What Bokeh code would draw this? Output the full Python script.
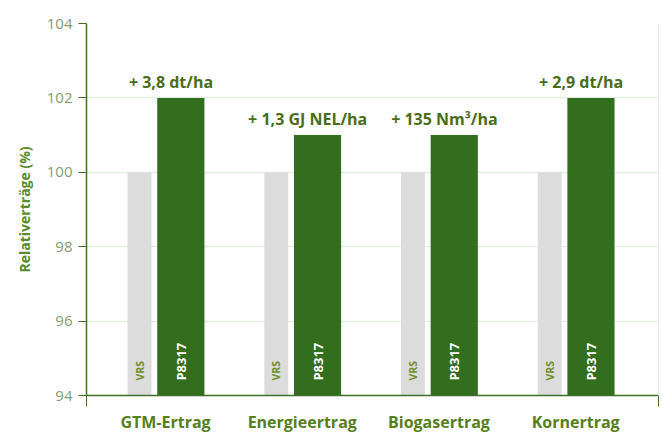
import numpy as np
from bokeh.plotting import figure
from bokeh.models import ColumnDataSource, FixedTicker, LinearAxis, Range1d
from bokeh.core.properties import value
from bokeh.embed import file_html
from bokeh.resources import INLINE

categories = ["GTM-Ertrag", "Energieertrag", "Biogasertrag", "Kornertrag"]
vrs_values = [100, 100, 100, 100]
p8317_values = [102.0, 101.0, 101.0, 102.0]
diff_labels = ["+ 3,8 dt/ha", "+ 1,3 GJ NEL/ha", "+ 135 Nm³/ha", "+ 2,9 dt/ha"]
y_ticks = [94, 96, 98, 100, 102, 104]

FONT = "Open Sans"
GREEN = "#336e1f"
GRAY = "#dcdcdc"
AXIS = "#3f6f2a"
TXT = "#557f1c"

idx = np.arange(len(categories)) + 0.5
src = ColumnDataSource(dict(
    xg=idx - 0.19, xp=idx + 0.112, xl=idx + 0.04,
    vrs=vrs_values, p=p8317_values, lab=diff_labels,
    tv=["VRS"] * 4, tp=["P8317"] * 4,
))

x0, x1 = -0.078, 4.106
p = figure(width=663, height=435, output_backend="svg", toolbar_location=None,
           x_range=Range1d(x0, x1), y_range=Range1d(94, 104),
           min_border_left=86, min_border_right=5, min_border_top=23, min_border_bottom=37)
p.outline_line_color = None
p.background_fill_color = "white"
p.border_fill_color = "white"

p.vbar(x="xg", width=0.175, bottom=94, top="vrs", source=src, fill_color=GRAY, line_color=None)
p.vbar(x="xp", width=0.345, bottom=94, top="p", source=src, fill_color=GREEN, line_color=None)

p.text(x="xg", y=94.4, text="tv", source=src, angle=np.pi / 2, text_align="left",
       text_baseline="middle", text_font=value(FONT), text_font_size="10.5px",
       text_font_style="bold", text_color="#6f8f2a")
p.text(x="xp", y=94.4, text="tp", source=src, angle=np.pi / 2, text_align="left",
       text_baseline="middle", text_font=value(FONT), text_font_size="13px",
       text_font_style="bold", text_color="white")
p.text(x="xl", y="p", text="lab", source=src, text_align="center", text_baseline="bottom",
       y_offset=-5, text_font=value(FONT), text_font_size="16px", text_font_style="bold",
       text_color="#4b6c1a")

# y axis
ya = p.yaxis[0]
ya.ticker = FixedTicker(ticks=y_ticks)
ya.minor_tick_line_color = None
ya.major_tick_in = 0
ya.major_tick_out = 8
ya.major_tick_line_color = AXIS
ya.axis_line_color = AXIS
ya.axis_line_width = 1.5
ya.major_label_text_font = FONT
ya.major_label_text_font_size = "15px"
ya.major_label_text_color = "#7f9c74"
ya.major_label_standoff = 6
ya.axis_label = "Relativerträge (%)"
ya.axis_label_text_font = FONT
ya.axis_label_text_font_size = "14px"
ya.axis_label_text_font_style = "bold"
ya.axis_label_text_color = "#5a8c2a"
ya.axis_label_standoff = 10

# x axis
xa = p.xaxis[0]
xa.ticker = FixedTicker(ticks=list(idx), minor_ticks=[x0, x1])
xa.major_label_overrides = {float(v): c for v, c in zip(idx, categories)}
xa.major_tick_line_color = None
xa.major_tick_in = 0
xa.major_tick_out = 0
xa.minor_tick_in = 0
xa.minor_tick_out = 11
xa.minor_tick_line_color = AXIS
xa.axis_line_color = AXIS
xa.axis_line_width = 1.5
xa.major_label_text_font = FONT
xa.major_label_text_font_size = "16px"
xa.major_label_text_font_style = "bold"
xa.major_label_text_color = TXT
xa.major_label_standoff = 4

# right border
ra = LinearAxis(ticker=FixedTicker(ticks=[]), major_label_text_font_size="0px")
ra.axis_line_color = "#e1ebde"
ra.major_tick_line_color = None
ra.minor_tick_line_color = None
p.add_layout(ra, "right")

p.xgrid.grid_line_color = None
p.ygrid.ticker = FixedTicker(ticks=[96, 98, 100, 102])
p.ygrid.grid_line_color = "#e3efe0"
p.ygrid.grid_line_width = 1.5

open("out.html", "w").write(file_html(p, INLINE))
